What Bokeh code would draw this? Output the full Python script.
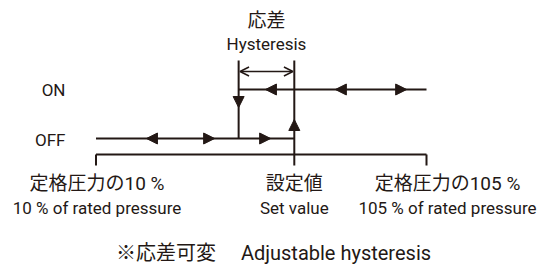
from bokeh.plotting import figure
from bokeh.models import Range1d, Arrow, NormalHead, OpenHead
from bokeh.core.properties import value
from bokeh.embed import file_html
from bokeh.resources import INLINE

# ---- data (pressure in % of rated pressure) ----
states = ["OFF", "ON"]
p_low, p_high = 10, 105
set_value = 67
hysteresis = 16
reset_value = set_value - hysteresis
on_arrows_left = [58.7, 78.8]
on_arrows_right = [99.3]
off_arrows_left = [24.5]
off_arrows_right = [44.1, 60.2]
label_low = ["定格圧力の10 %", "10 % of rated pressure"]
label_set = ["設定値", "Set value"]
label_high = ["定格圧力の105 %", "105 % of rated pressure"]
label_hys = ["応差", "Hysteresis"]
footnote = "※応差可変　 Adjustable hysteresis"

# ---- layout (vertical positions, px from top) ----
W, H = 546, 266
Y = {"ON": 89, "OFF": 138}
Y_TOP, Y_DBL, Y_BASE, Y_TICK = 60, 71, 154, 165
Y_DOWN_TIP, Y_UP_TIP = 107, 119
C = "#231815"
K = (426 - 95.5) / (p_high - p_low)
x0 = p_low - 95.5 / K
x1 = x0 + W / K

FONT = value("Roboto, Noto Sans CJK JP")

p = figure(width=W, height=H, x_range=Range1d(x0, x1), y_range=Range1d(H, 0),
           toolbar_location=None, output_backend="svg", min_border=0,
           x_axis_type=None, y_axis_type=None, outline_line_color=None)
p.grid.visible = False
p.background_fill_color = "white"
p.border_fill_color = "white"

# main lines
xs0 = [reset_value, set_value, reset_value, p_low, p_low, p_low, p_high]
xs1 = [reset_value, set_value, p_high, set_value, p_high, p_low, p_high]
ys0 = [Y_TOP, Y_TOP, Y["ON"], Y["OFF"], Y_BASE, Y_BASE, Y_BASE]
ys1 = [Y["OFF"], Y_TICK, Y["ON"], Y["OFF"], Y_BASE, Y_TICK, Y_TICK]
p.segment(xs0, ys0, xs1, ys1, line_color=C, line_width=2, line_cap="butt")

def head(xt, yt, dx, dy):
    p.add_layout(Arrow(end=NormalHead(size=11, fill_color=C, line_color=C, line_width=1),
                       x_start=xt - dx, y_start=yt - dy, x_end=xt, y_end=yt,
                       line_alpha=0))

for xv in on_arrows_left:
    head(xv, Y["ON"], -0.5, 0)
for xv in on_arrows_right:
    head(xv, Y["ON"], 0.5, 0)
for xv in off_arrows_left:
    head(xv, Y["OFF"], -0.5, 0)
for xv in off_arrows_right:
    head(xv, Y["OFF"], 0.5, 0)
head(reset_value, Y_DOWN_TIP, 0, 2)
head(set_value, Y_UP_TIP, 0, -2)

# hysteresis double arrow
p.add_layout(Arrow(start=OpenHead(size=9, line_color=C, line_width=1.5),
                   end=OpenHead(size=9, line_color=C, line_width=1.5),
                   x_start=reset_value + 0.4, y_start=Y_DBL, x_end=set_value - 0.4, y_end=Y_DBL,
                   line_color=C, line_width=1.5))

mid_h = (reset_value + set_value) / 2
def txt(x, y, t, size, align="center", xo=0):
    p.text(x=[x], y=[y], text=[t], text_font=FONT, text_font_size=size,
           text_color=C, text_align=align, text_baseline="middle", x_offset=xo)

txt(mid_h, 19.5, label_hys[0], "19px")
txt(mid_h, 43.5, label_hys[1], "17px")
txt(p_low, Y["ON"], states[1], "17px", "right", -30.5)
txt(p_low, Y["OFF"] + 1, states[0], "17px", "right", -30.5)
txt(p_low, 183, label_low[0], "19px", xo=1)
txt(p_low, 207, label_low[1], "17px", xo=1)
txt(set_value, 183, label_set[0], "19px")
txt(set_value, 207, label_set[1], "17px")
txt(p_high, 183, label_high[0], "19px", xo=21)
txt(p_high, 207, label_high[1], "17px", xo=21)
txt((x0 + x1) / 2, 252, footnote, "20px")

open("out.html", "w").write(file_html(p, INLINE))
